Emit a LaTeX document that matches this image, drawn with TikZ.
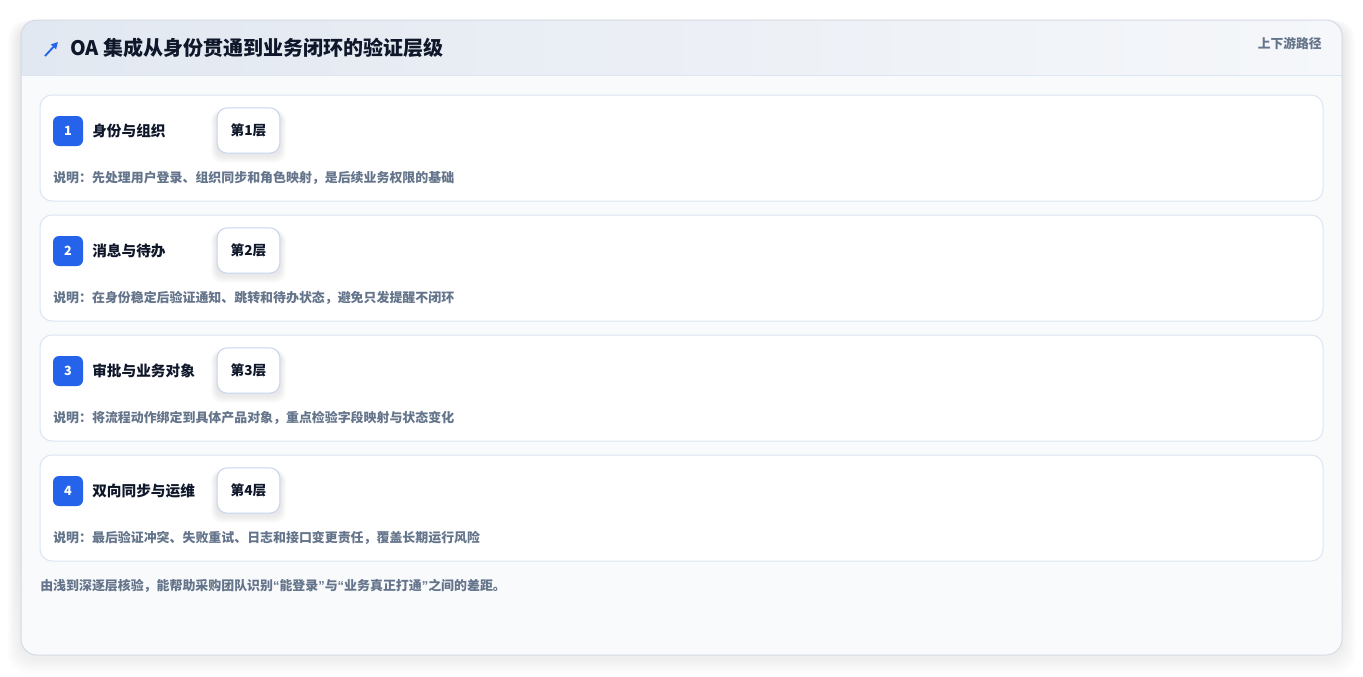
\documentclass[tikz,border=0pt]{standalone}
\usepackage{fontspec}
\setmainfont{Noto Sans CJK SC}
\newfontfamily\latinq{Liberation Sans}
\usetikzlibrary{arrows.meta}
\definecolor{cardbg}{HTML}{F9FAFC}
\definecolor{cardline}{HTML}{D3DAE4}
\definecolor{headL}{HTML}{E2E8F1}
\definecolor{headR}{HTML}{F5F7FA}
\definecolor{rowline}{HTML}{DCE6F3}
\definecolor{tagline}{HTML}{C5D6EE}
\definecolor{badge}{HTML}{2563EB}
\definecolor{ink}{HTML}{0F172A}
\definecolor{muted}{HTML}{64748B}
\definecolor{shade}{HTML}{1E293B}
\newcommand{\myLq}{{\latinq “}}
\newcommand{\myRq}{{\latinq ”}}
\tikzset{
  x=0.75pt, y=-0.75pt,
  rowbox/.style={draw=rowline, line width=0.75pt, fill=white, rounded corners=9pt},
  badgebox/.style={fill=badge, rounded corners=4.5pt, minimum width=22.5pt, minimum height=22.5pt, inner sep=0pt, text=white, font=\bfseries\fontsize{9.5}{11}\selectfont},
  rowtitle/.style={anchor=west, inner sep=0pt, text=ink, font=\bfseries\fontsize{11}{13}\selectfont},
  tagbox/.style={draw=tagline, line width=0.75pt, fill=white, rounded corners=7.5pt, minimum width=47pt, minimum height=34pt, inner sep=0pt, text=ink, font=\bfseries\fontsize{10.25}{12}\selectfont},
  desc/.style={anchor=west, inner sep=0pt, text=muted, font=\bfseries\fontsize{9.7}{11}\selectfont},
}
\begin{document}
\begin{tikzpicture}
\useasboundingbox (0,0) rectangle (1363,676);
\fill[white] (0,0) rectangle (1363,676);
% outer card shadow
\foreach \k in {1,...,8}{
  \fill[shade, opacity=0.008, rounded corners=14pt] (21-1.6*\k,20-0.6*\k+5) rectangle (1342+1.6*\k,655+1.8*\k+4);
}
% outer card
\fill[cardbg, rounded corners=12pt] (21,20) rectangle (1342,655);
\begin{scope}
\clip[rounded corners=12pt] (21,20) rectangle (1342,655);
\shade[left color=headL, right color=headR] (21,20) rectangle (1342,75);
\draw[rowline, line width=0.75pt] (21,75) -- (1342,75);
\end{scope}
\draw[cardline, line width=0.75pt, rounded corners=12pt] (21,20) rectangle (1342,655);
% header
\draw[badge, line width=1.4pt, -{Triangle[length=5pt,width=5pt]}] (45,56) coordinate (arA) -- (58,42) coordinate (arB);
\node[anchor=west, inner sep=0pt, text=ink, font=\bfseries\fontsize{15}{18}\selectfont] (title) at (70,48) {OA 集成从身份贯通到业务闭环的验证层级};
\node[anchor=east, inner sep=0pt, text=muted, font=\bfseries\fontsize{9.6}{11}\selectfont] (path) at (1322,44) {上下游路径};
% rows
\foreach \i/\t/\d in {1/身份与组织/先处理用户登录、组织同步和角色映射，是后续业务权限的基础,
                      2/消息与待办/在身份稳定后验证通知、跳转和待办状态，避免只发提醒不闭环,
                      3/审批与业务对象/将流程动作绑定到具体产品对象，重点检验字段映射与状态变化,
                      4/双向同步与运维/最后验证冲突、失败重试、日志和接口变更责任，覆盖长期运行风险}{
  \pgfmathsetmacro{\yt}{95+120*(\i-1)}
  \draw[rowbox] (40,\yt) rectangle (1323,\yt+106);
  \node[badgebox] (b\i) at (68,\yt+36) {\i};
  \node[rowtitle] (t\i) at (92,\yt+36) {\t};
  \foreach \k in {1,...,6}{
    \fill[shade, opacity=0.01, rounded corners=9pt] (217-\k,\yt+13-0.5*\k+4) rectangle (280+\k,\yt+58+\k+4);
  }
  \node[tagbox] (g\i) at (248.5,\yt+35.5) {第\i 层};
  \node[desc] (d\i) at (53,\yt+83) {说明：\d};
}
\node[anchor=west, inner sep=0pt, text=muted, font=\bfseries\fontsize{9.7}{11}\selectfont] (foot) at (40,586) {由浅到深逐层核验，能帮助采购团队识别\myLq 能登录\myRq 与\myLq 业务真正打通\myRq 之间的差距。};
\end{tikzpicture}
\end{document}
